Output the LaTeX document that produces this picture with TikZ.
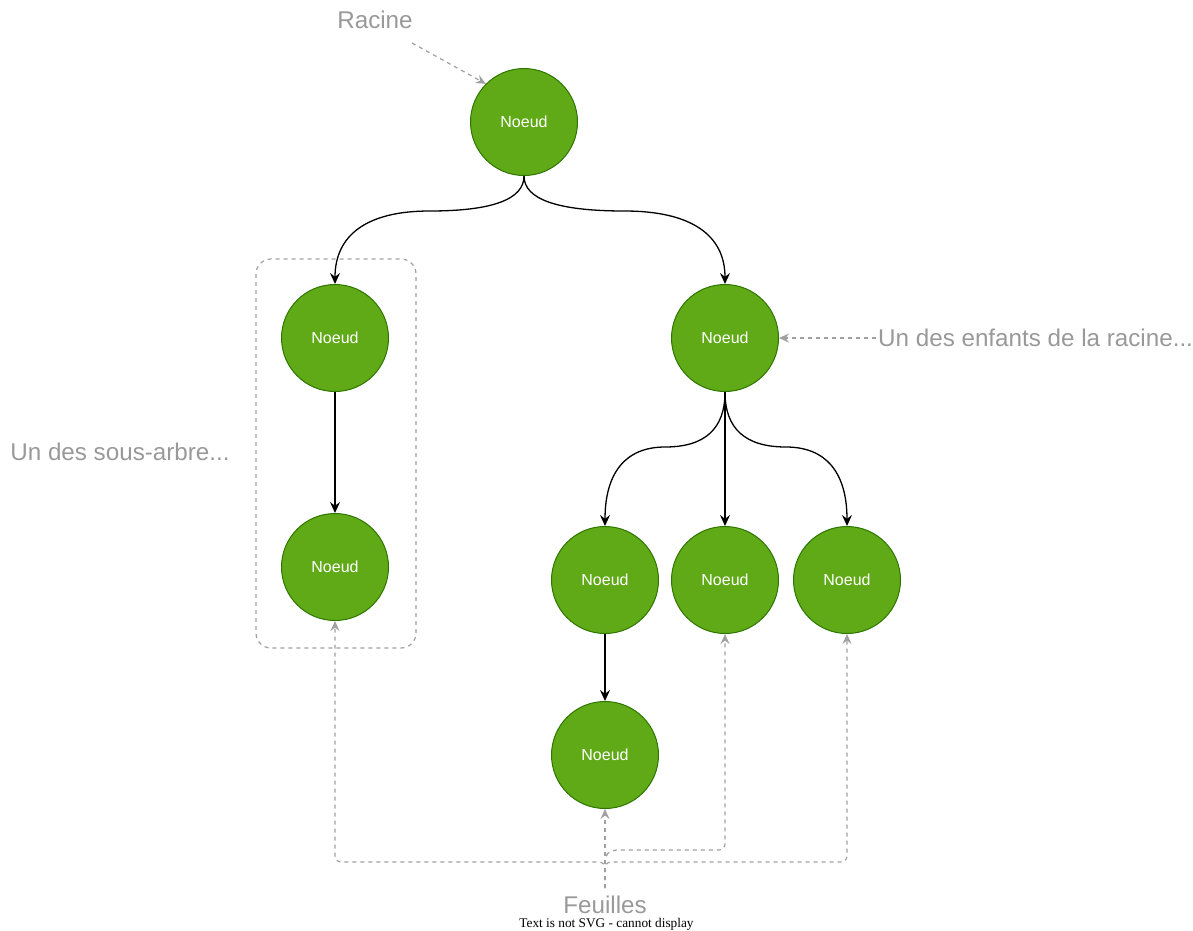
\documentclass[tikz,border=0pt]{standalone}
\usepackage{fontspec}
\setmainfont{Liberation Sans}
\newfontfamily\serifont{Liberation Serif}
\usetikzlibrary{arrows.meta}
\definecolor{nodefill}{HTML}{60A917}
\definecolor{nodeline}{HTML}{2D7600}
\definecolor{labgray}{HTML}{999999}
\definecolor{dashgray}{HTML}{A0A0A0}
\begin{document}
\begin{tikzpicture}[x=1pt,y=1pt,
 treenode/.style={circle, fill=nodefill, draw=nodeline, line width=1pt, minimum size=107pt, inner sep=0pt, text=white, font=\fontsize{16}{19}\selectfont},
 lab/.style={text=labgray, font=\fontsize{24.2}{28}\selectfont, inner sep=2pt},
 arr/.style={line width=1.3pt, -{Stealth[length=11pt,width=10pt,inset=3.8pt]}},
 dasharr/.style={dashgray, line width=1.2pt, dash pattern=on 4pt off 4pt, -{Stealth[length=10pt,width=9pt,inset=3.5pt]}},
 dashbox/.style={dashgray, line width=1.2pt, dash pattern=on 4pt off 4pt, rounded corners=15pt}]
\useasboundingbox (0,0) rectangle (1193,-930);

% sub-tree box
\draw[dashbox] (256,-259) rectangle (416,-648);

% tree nodes
\node[treenode] (root) at (524,-122) {Noeud};
\node[treenode] (a) at (335,-338) {Noeud};
\node[treenode] (b) at (335,-567) {Noeud};
\node[treenode] (c) at (725,-338) {Noeud};
\node[treenode] (d) at (605,-580) {Noeud};
\node[treenode] (e) at (725,-580) {Noeud};
\node[treenode] (f) at (847,-580) {Noeud};
\node[treenode] (g) at (605,-755) {Noeud};

% labels
\node[lab] (racine) at (375,-20) {Racine};
\node[lab, anchor=west] (enfants) at (876,-338) {Un des enfants de la racine...};
\node[lab] (sousarbre) at (120,-452) {Un des sous-arbre...};
\node[lab, inner sep=0pt] (feuilles) at (605,-905) {Feuilles};
\node[font=\serifont\fontsize{13.3}{15}\selectfont, inner sep=0pt] (nosvg) at (606.5,-924.5) {Text is not SVG - cannot display};

\coordinate (r0) at (412,-43);
\coordinate (f0) at (605,-888);

% tree edges
\draw[arr] (root.south) .. controls (524,-199.3) and (492.5,-211) .. (429.5,-211)
  .. controls (366.5,-211) and (335,-235.3) .. (a.north);
\draw[arr] (root.south) .. controls (524,-199.3) and (557.5,-211) .. (624.5,-211)
  .. controls (691.5,-211) and (725,-235.3) .. (c.north);
\draw[arr] (a) -- (b);
\draw[arr] (c.south) .. controls (725,-428.7) and (705,-447) .. (665,-447)
  .. controls (625,-447) and (605,-473.3) .. (d.north);
\draw[arr] (c) -- (e);
\draw[arr] (c.south) .. controls (725,-428.7) and (745.3,-447) .. (786,-447)
  .. controls (826.7,-447) and (847,-473.3) .. (f.north);
\draw[arr] (d) -- (g);

% annotation arrows
\draw[dasharr] (r0) -- (root.135);
\draw[dasharr] (enfants.west) -- (c.east);
\draw[dasharr] (f0) -- (g.south);
\draw[dasharr, rounded corners=6pt] (f0) -- (605,-862) -| (b.south);
\draw[dasharr, rounded corners=6pt] (f0) -- (605,-862) -| (f.south);
\draw[dasharr, rounded corners=6pt] (f0) -- (605,-856) -- (611,-850) -| (e.south);
\end{tikzpicture}
\end{document}
